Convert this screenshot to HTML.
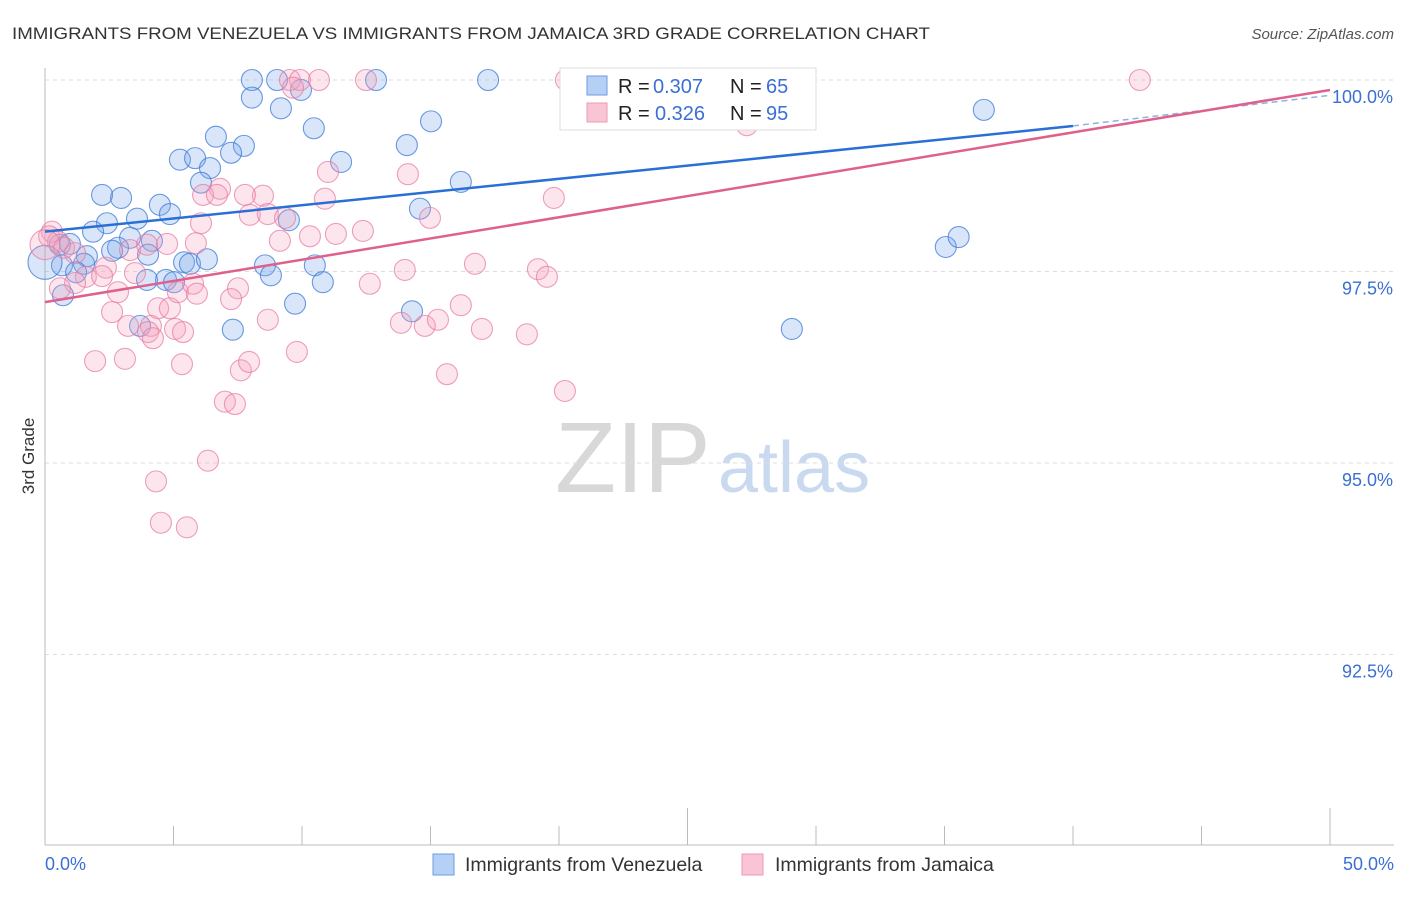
<!DOCTYPE html>
<html><head><meta charset="utf-8"><style>
body{margin:0;background:#fff;font-family:"Liberation Sans",sans-serif;}
svg text{font-family:"Liberation Sans",sans-serif;}
</style></head><body>
<svg id="chart" width="1406" height="892">
<text x="12" y="39" font-size="17" fill="#333" textLength="918" lengthAdjust="spacingAndGlyphs">IMMIGRANTS FROM VENEZUELA VS IMMIGRANTS FROM JAMAICA 3RD GRADE CORRELATION CHART</text>
<text x="1394" y="39" font-size="15" fill="#555" text-anchor="end" font-style="italic">Source: ZipAtlas.com</text>
<text x="34" y="456" font-size="17" fill="#333" text-anchor="middle" transform="rotate(-90 34 456)">3rd Grade</text>
<g><text x="555" y="492" font-size="100" fill="#d8d8d8" font-family="Liberation Serif">ZIP</text><text x="718" y="492" font-size="72" fill="#c9d9f0">atlas</text></g>
<g id="grid"></g><g id="axes"></g><g id="pts"></g><g id="trend"></g>
<g>
<rect x="560" y="68" width="256" height="62" fill="#fff" stroke="#ddd"/>
<rect x="587" y="76" width="20" height="19" fill="#b6d0f5" stroke="#6b9be0"/>
<text x="618" y="93" font-size="20" fill="#222">R =</text>
<text x="653" y="93" font-size="20" fill="#3b6fd4">0.307</text>
<text x="730" y="93" font-size="20" fill="#222">N =</text>
<text x="766" y="93" font-size="20" fill="#3b6fd4">65</text>
<rect x="587" y="103" width="20" height="19" fill="#f9c5d5" stroke="#e99ab4"/>
<text x="618" y="120" font-size="20" fill="#222">R =</text>
<text x="655" y="120" font-size="20" fill="#3b6fd4">0.326</text>
<text x="730" y="120" font-size="20" fill="#222">N =</text>
<text x="766" y="120" font-size="20" fill="#3b6fd4">95</text>
</g>
<g>
<rect x="433" y="854" width="21" height="21" fill="#b6d0f5" stroke="#6b9be0"/>
<text x="465" y="871" font-size="19.5" fill="#333">Immigrants from Venezuela</text>
<rect x="742" y="854" width="21" height="21" fill="#f9c5d5" stroke="#e99ab4"/>
<text x="775" y="871" font-size="19.5" fill="#333">Immigrants from Jamaica</text>
</g>
</svg>
<script>
const yTicks=[100,97.5,95,92.5];
const yTickLabels=["100.0%","97.5%","95.0%","92.5%"];
const xTicks=[0,5,10,15,20,25,30,35,40,45,50];
const xEndLabels=["0.0%","50.0%"];
const venX=[8.05,9.03,9.96,12.88,17.24,8.05,9.18,10.46,14.08,15.02,6.65,7.74,5.25,5.84,7.24,6.42,11.52,16.18,6.07,2.22,2.96,14.59,4.47,4.86,3.58,2.41,1.87,3.31,4.16,2.84,2.61,4.01,0.58,0.97,1.63,0.66,1.52,1.21,3.97,4.71,5.02,5.41,5.64,6.30,8.56,8.79,10.50,10.81,9.73,14.28,7.31,3.70,0.70,9.49,36.53,35.05,35.55,29.06,0];
const venY=[100,100,99.87,100,100,99.77,99.63,99.37,99.15,99.46,99.26,99.14,98.96,98.98,99.05,98.85,98.93,98.67,98.66,98.50,98.46,98.32,98.37,98.25,98.19,98.13,98.02,97.94,97.90,97.81,97.77,97.72,97.85,97.86,97.70,97.58,97.60,97.49,97.39,97.39,97.36,97.62,97.60,97.66,97.58,97.45,97.58,97.36,97.08,96.98,96.74,96.79,97.19,98.17,99.61,97.82,97.95,96.75,97.62];
const jamX=[9.53,9.92,10.66,12.49,42.6,20.27,25.75,27.31,9.65,11.01,14.12,10.89,6.81,6.15,6.69,8.48,7.78,19.80,7.97,8.67,9.34,14.98,6.07,0.27,0.16,0.51,0.74,1.17,3.31,3.97,4.75,5.87,9.14,10.31,11.32,12.37,14.00,16.73,19.18,19.53,2.37,3.50,1.59,1.17,0.58,2.22,2.84,4.40,4.86,5.17,5.76,5.91,7.51,7.24,8.67,2.61,3.23,4.12,4.01,4.20,5.06,5.37,12.64,16.18,13.85,14.78,15.29,17.00,18.75,1.95,3.11,5.33,9.80,7.62,7.94,15.64,20.23,7.00,7.39,6.34,4.32,4.51,5.52,0];
const jamY=[100,100,100,100,100,100,100,99.41,99.90,98.80,98.77,98.45,98.58,98.50,98.50,98.49,98.50,98.46,98.24,98.25,98.20,98.20,98.13,98.02,97.96,97.89,97.81,97.74,97.78,97.85,97.86,97.87,97.90,97.96,97.99,98.03,97.52,97.60,97.53,97.43,97.55,97.48,97.43,97.35,97.28,97.44,97.23,97.02,97.02,97.23,97.34,97.21,97.28,97.14,96.87,96.97,96.79,96.79,96.71,96.63,96.75,96.71,97.34,97.06,96.83,96.79,96.87,96.75,96.68,96.33,96.36,96.29,96.45,96.21,96.32,96.16,95.94,95.80,95.77,95.03,94.76,94.22,94.16,97.85];
const venTrend=[98.02,99.40,99.80];
const jamTrend=[97.10,99.87];
const NS="http://www.w3.org/2000/svg";
const sx=v=>45+v/50*1285;
const sy=v=>80+(100-v)/2.5*191.5;
function mk(tag,attrs,parent){const e=document.createElementNS(NS,tag);for(const k in attrs)e.setAttribute(k,attrs[k]);document.getElementById(parent).appendChild(e);return e;}
yTicks.forEach((t,i)=>{
 const g=mk('line',{x1:45,x2:1394,y1:sy(t),y2:sy(t),stroke:'#ddd','stroke-dasharray':'4,4'},'grid');
 
 
 const l=mk('text',{x:1393,y:sy(t)+23,'font-size':18,fill:'#3b6fd4','text-anchor':'end'},'grid');
 l.textContent=yTickLabels[i];
 
 
});
const ax=mk('line',{x1:45,x2:45,y1:68,y2:845,stroke:'#bbb'},'axes');


const bx=mk('line',{x1:45,x2:1394,y1:845,y2:845,stroke:'#bbb'},'axes');


xTicks.forEach((t,i)=>{
 const tk=mk('line',{x1:sx(t),x2:sx(t),y1:(i===5||i===10)?808:826,y2:845,stroke:'#bbb'},'axes');
 
 
});
const l0=mk('text',{x:45,y:870,'font-size':18,fill:'#3b6fd4'},'axes');l0.textContent=xEndLabels[0];


const l1=mk('text',{x:1394,y:870,'font-size':18,fill:'#3b6fd4','text-anchor':'end'},'axes');l1.textContent=xEndLabels[1];


venX.forEach((x,i)=>{
 const c=mk('circle',{cx:sx(x),cy:sy(venY[i]),r:i===venX.length-1?17:10.5,fill:'rgba(120,165,235,0.28)',stroke:'rgba(60,120,215,0.75)','stroke-width':1.1},'pts');
 
 
});
jamX.forEach((x,i)=>{
 const c=mk('circle',{cx:sx(x),cy:sy(jamY[i]),r:i===jamX.length-1?15:10.5,fill:'rgba(245,160,190,0.28)',stroke:'rgba(230,120,160,0.7)','stroke-width':1.1},'pts');
 
 
});
const tb=mk('line',{x1:sx(0),y1:sy(venTrend[0]),x2:sx(40),y2:sy(venTrend[1]),stroke:'#2a6fd6','stroke-width':2.5},'trend');


const tbd=mk('line',{x1:sx(40),y1:sy(venTrend[1]),x2:sx(50),y2:sy(venTrend[2]),stroke:'#8fb0e0','stroke-width':1.5,'stroke-dasharray':'6,4'},'trend');


const tp=mk('line',{x1:sx(0),y1:sy(jamTrend[0]),x2:sx(50),y2:sy(jamTrend[1]),stroke:'#e0608c','stroke-width':2.5},'trend');


</script>
</body></html>
